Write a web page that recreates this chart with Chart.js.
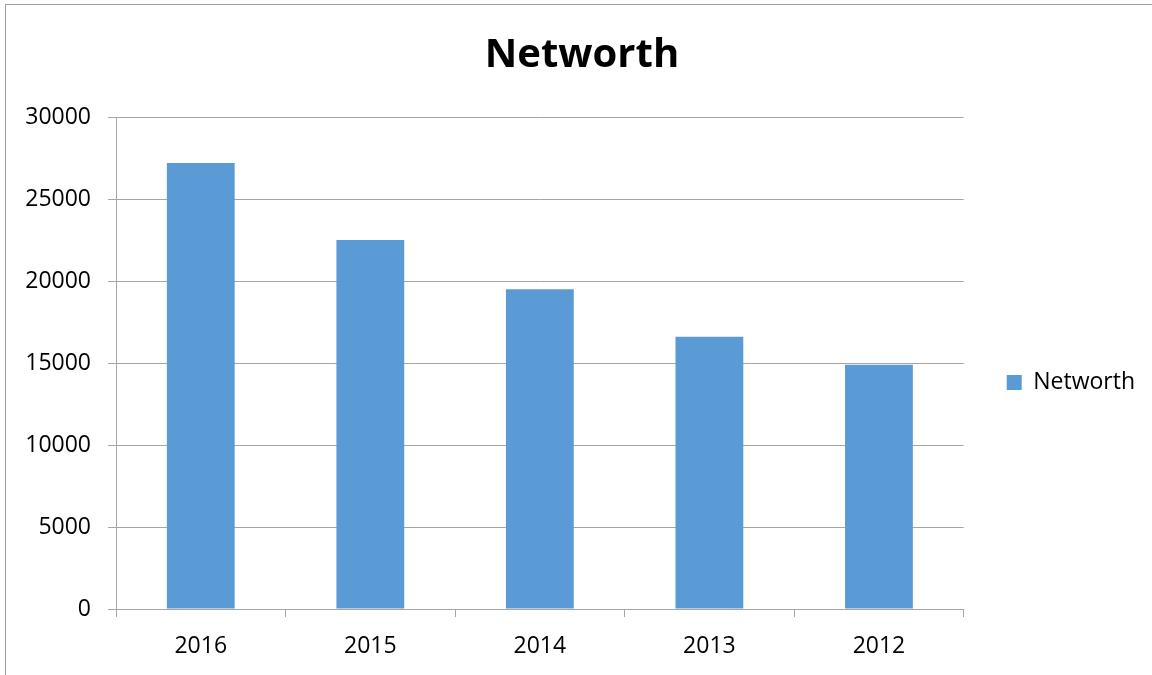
<!DOCTYPE html>
<html>
<head>
<meta charset="utf-8">
<script src="https://cdn.jsdelivr.net/npm/chart.js@4"></script>
<style>
	html, body { margin: 0; padding: 0; background: #fff; overflow: hidden; }
	.frame { position: absolute; left: 5px; top: 4px; width: 1300px; height: 900px; border: 1px solid #a0a0a0; }
	#chart-1 { position: absolute; left: 0; top: 0; }
</style>
</head>
<body>
<div class="frame"></div>
<canvas id="chart-1" width="1152" height="675"></canvas>
<script>
const years = ["2016", "2015", "2014", "2013", "2012"];
const networth = [27200, 22500, 19500, 16600, 14900];
const yTicks = [0, 5000, 10000, 15000, 20000, 25000, 30000];

const gridColor = "#a6a6a6";
const tickFont = {family: "'Open Sans', sans-serif", size: 23};

new Chart("chart-1", {
	type: "bar",
	data: {
		labels: years,
		datasets: [{
			label: "Networth",
			data: networth,
			backgroundColor: "#5b9bd5",
			barPercentage: 0.4,
			categoryPercentage: 1
		}]
	},
	options: {
		responsive: false,
		animation: false,
		devicePixelRatio: 1,
		layout: {padding: {left: 19, right: 7, top: 0, bottom: 0}},
		scales: {
			x: {
				grid: {drawOnChartArea: false, color: gridColor, tickLength: 8},
				border: {color: gridColor},
				ticks: {color: "#000", font: tickFont, padding: 16},
				afterFit: (scale) => { scale.height = 66; }
			},
			y: {
				min: yTicks[0],
				max: yTicks[yTicks.length - 1],
				grid: {color: gridColor, tickLength: 8},
				border: {color: gridColor},
				ticks: {
					stepSize: yTicks[1] - yTicks[0],
					color: "#000",
					font: tickFont,
					padding: 17,
					callback: (v) => String(v)
				},
				afterFit: (scale) => { scale.width = 97; }
			}
		},
		plugins: {
			title: {
				display: true,
				text: "Networth",
				color: "#000",
				font: {family: "'Open Sans', sans-serif", size: 40, weight: "bold"},
				padding: {top: 32, bottom: 37}
			},
			legend: {
				position: "right",
				title: {display: true, text: "", font: {size: 20}, padding: {top: 0, bottom: 66}},//pushes the single item down
				labels: {
					color: "#000",
					font: tickFont,
					boxWidth: 15,
					boxHeight: 15,
					padding: 43
				}
			},
			tooltip: {enabled: false}
		}
	}
});
</script>
</body>
</html>
